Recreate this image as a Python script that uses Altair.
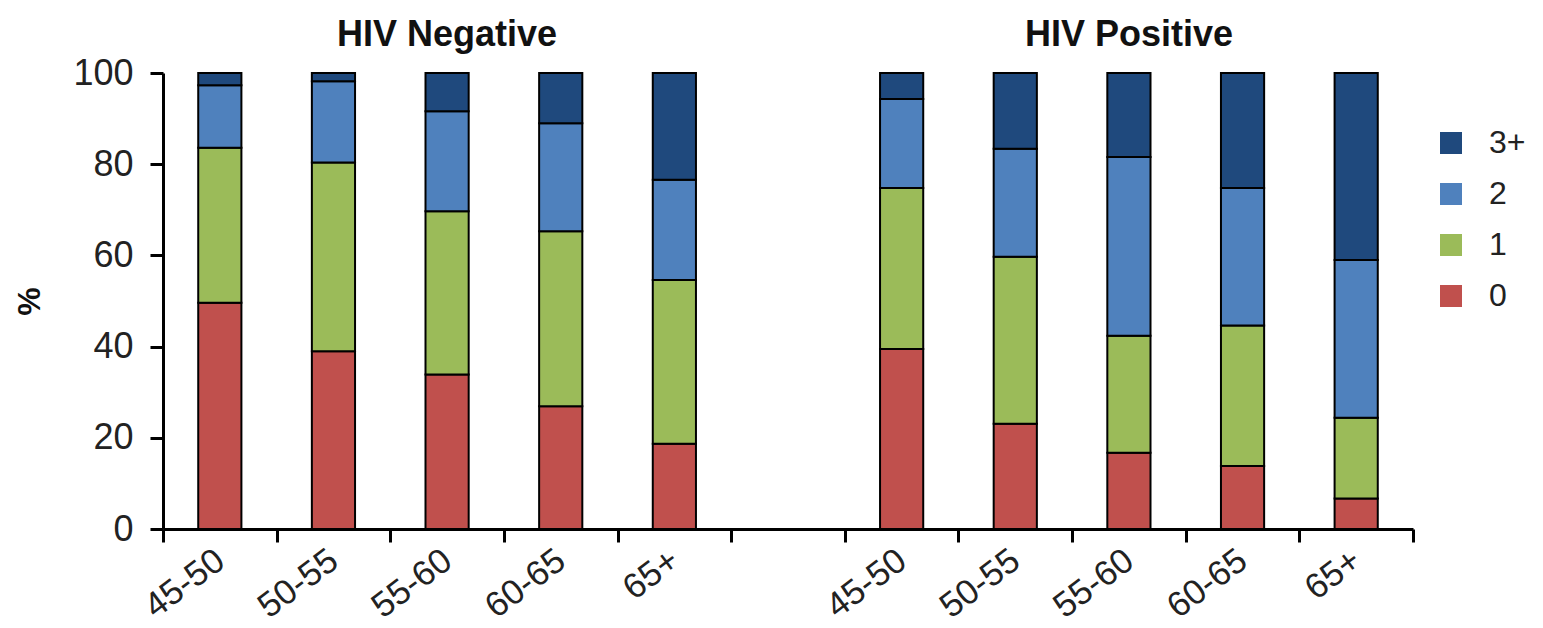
import altair as alt
import pandas as pd

ages = ["45-50", "50-55", "55-60", "60-65", "65+"]
groups = ["HIV Negative", "HIV Positive"]
prefixes = ["N", "P"]
counts = ["0", "1", "2", "3+"]
colors = ["#C0504D", "#9BBB59", "#4F81BD", "#1F497D"]

neg_0 = [49.6, 39.0, 33.9, 26.9, 18.7]
neg_1 = [34.0, 41.4, 35.8, 38.4, 35.9]
neg_2 = [13.7, 17.8, 21.9, 23.7, 22.0]
neg_3 = [2.7, 1.8, 8.4, 11.0, 23.4]
pos_0 = [39.5, 23.1, 16.7, 13.8, 6.7]
pos_1 = [35.3, 36.6, 25.7, 30.8, 17.7]
pos_2 = [19.5, 23.7, 39.2, 30.2, 34.6]
pos_3 = [5.7, 16.6, 18.4, 25.2, 41.0]

series = {
    "N": [neg_0, neg_1, neg_2, neg_3],
    "P": [pos_0, pos_1, pos_2, pos_3],
}

rows = []
for p in prefixes:
    for ci, c in enumerate(counts):
        for ai, a in enumerate(ages):
            rows.append({"key": f"{p}:{a}", "count": c, "order": ci,
                         "value": series[p][ci][ai]})
df = pd.DataFrame(rows)

domain = [f"N:{a}" for a in ages] + ["gap"] + [f"P:{a}" for a in ages]

title_df = pd.DataFrame({
    "key": [f"{p}:{ages[2]}" for p in prefixes],
    "y": [100, 100],
    "text": groups,
})

FONT = "Liberation Sans"

xscale = alt.Scale(domain=domain, paddingInner=0, paddingOuter=0)

bars = alt.Chart(df).mark_bar(
    width=alt.RelativeBandSize(0.38), stroke="black", strokeWidth=2
).encode(
    x=alt.X("key:N", scale=xscale,
            axis=alt.Axis(title=None, tickBand="extent", labelAngle=-37,
                          labelAlign="right", labelBaseline="middle",
                          labelPadding=14, labelFontSize=35,
                          labelExpr="isString(datum.value) && datum.value != 'gap' ? substring(datum.value, 2) : ''")),
    y=alt.Y("value:Q", stack="zero",
            scale=alt.Scale(domain=[0, 100], nice=False),
            axis=alt.Axis(title="%", values=[0, 20, 40, 60, 80, 100],
                          labelFontSize=36, labelPadding=17,
                          titleFontSize=32, titleFontWeight="bold",
                          titlePadding=26, grid=False)),
    color=alt.Color("count:N",
                    scale=alt.Scale(domain=counts[::-1], range=colors[::-1]),
                    legend=alt.Legend(title=None, orient="none", legendX=1272,
                                      legendY=54, symbolType="square",
                                      symbolSize=484, symbolStrokeWidth=0,
                                      labelFontSize=32, labelFont=FONT,
                                      labelOffset=22, rowPadding=19,
                                      labelColor="#222")),
    order=alt.Order("order:Q", sort="ascending"),
)

titles = alt.Chart(title_df).mark_text(
    dy=-38, fontSize=36, fontWeight="bold", font=FONT, color="#111"
).encode(
    x=alt.X("key:N", scale=xscale),
    y=alt.Y("y:Q"),
    text="text:N",
)

chart = alt.layer(bars, titles).properties(
    width=1250, height=456,
    padding={"left": 5, "top": 9, "right": 5, "bottom": 5}
).configure_view(stroke=None).configure_axis(
    domainColor="black", domainWidth=3, tickColor="black", tickWidth=3,
    tickSize=13, labelFont=FONT, titleFont=FONT, labelColor="#222",
    titleColor="#111"
)

chart.save("out.html", embed_options={"renderer": "svg", "actions": False})
